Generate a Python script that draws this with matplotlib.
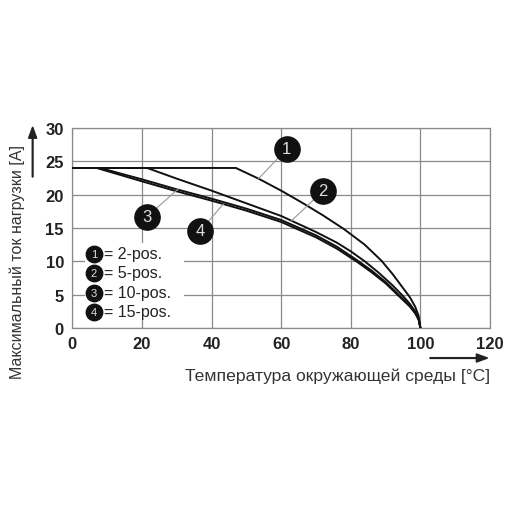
import matplotlib.pyplot as plt

plt.rcParams['font.family'] = ['Liberation Sans', 'DejaVu Sans']

# derating curves: ambient temperature [°C] -> max. load current [A]
x_2pos = [0, 47, 53.5, 60, 66, 72, 78, 84, 88.8, 92, 95, 97, 98.5, 99.5, 100]
y_2pos = [24, 24, 22.4, 20.6, 18.8, 16.9, 14.85, 12.5, 10.1, 8.1, 6.0, 4.6, 3.2, 1.8, 0]

x_5pos = [0, 21.5, 30, 40, 50, 60, 70, 76, 80, 84, 88, 92, 95, 97, 98.5, 99.5, 100]
y_5pos = [24, 24, 22.4, 20.6, 18.7, 16.8, 14.4, 12.8, 11.5, 10.0, 8.3, 6.4, 4.8, 3.6, 2.5, 1.4, 0]

x_10pos = [0, 8, 20, 30, 40, 50, 60, 70, 76, 82, 86, 90, 94.5, 97, 98.5, 99.5, 100]
y_10pos = [24, 24, 22.3, 20.8, 19.4, 17.9, 16.2, 13.9, 12.2, 10.1, 8.6, 6.9, 4.6, 3.3, 2.3, 1.3, 0]

x_15pos = [0, 7, 20, 30, 40, 50, 60, 70, 76, 82, 86, 90, 94.5, 97, 98.5, 99.5, 100]
y_15pos = [24, 24, 22.0, 20.5, 19.1, 17.6, 15.9, 13.6, 11.9, 9.85, 8.35, 6.7, 4.45, 3.2, 2.2, 1.25, 0]

legend_labels = ['2-pos.', '5-pos.', '10-pos.', '15-pos.']
callout_nums = ['1', '2', '3', '4']
callout_pos = [(61.6, 26.85), (72.0, 20.55), (21.4, 16.65), (36.7, 14.55)]
callout_tip = [(53.5, 22.4), (63, 16.1), (30.4, 20.85), (43.4, 18.6)]

fig = plt.figure(figsize=(5.1, 5.1), dpi=100)
ax = fig.add_axes([0.1418, 0.3549, 0.8190, 0.3922])

for xs, ys in [(x_2pos, y_2pos), (x_5pos, y_5pos), (x_10pos, y_10pos), (x_15pos, y_15pos)]:
    ax.plot(xs, ys, color='#111111', lw=1.4, zorder=3, solid_joinstyle='round')

ax.set_xlim(0, 120)
ax.set_ylim(0, 30)
ax.set_xticks(range(0, 121, 20))
ax.set_yticks(range(0, 31, 5))
ax.grid(True, color='#8a8a8a', lw=0.9)
ax.set_axisbelow(True)
for s in ax.spines.values():
    s.set_color('#8a8a8a')
    s.set_linewidth(0.9)
ax.tick_params(length=0, labelsize=12, pad=6)
for lab in ax.get_xticklabels() + ax.get_yticklabels():
    lab.set_fontweight('bold')
    lab.set_color('#222222')

# callouts
for num, (cx, cy), (tx, ty) in zip(callout_nums, callout_pos, callout_tip):
    ax.plot([cx, tx], [cy, ty], color='#999999', lw=0.8, zorder=4)
    ax.scatter([cx], [cy], s=330, color='#111111', zorder=5)
    ax.text(cx, cy, num, color='#e0e0e0', fontsize=12, ha='center', va='center', zorder=6)

# legend block
ax.add_patch(plt.Rectangle((3.7, 1.3), 28.3, 11.5, facecolor='white', edgecolor='none', zorder=2))
leg_y = [11.1, 8.3, 5.3, 2.4]
for num, lab, ly in zip(callout_nums, legend_labels, leg_y):
    ax.scatter([6.2], [ly], s=140, color='#111111', zorder=5)
    ax.text(6.2, ly, num, color='#e0e0e0', fontsize=8, ha='center', va='center', zorder=6)
    ax.text(9.2, ly, '= ' + lab, color='#222222', fontsize=11.5, ha='left', va='center', zorder=6)

# axis labels with arrows
fig.text(0.961, 0.262, 'Температура окружающей среды [°C]', fontsize=12.6,
         ha='right', va='center', color='#333333')
fig.patches.append(plt.matplotlib.patches.FancyArrow(
    0.843, 0.296, 0.113, 0, width=0.0015, head_width=0.016, head_length=0.022,
    length_includes_head=True, color='#222222', transform=fig.transFigure, figure=fig))

fig.text(0.034, 0.715, 'Максимальный ток нагрузки [A]', fontsize=11.5, rotation=90,
         ha='center', va='top', color='#333333')
fig.patches.append(plt.matplotlib.patches.FancyArrow(
    0.064, 0.651, 0, 0.098, width=0.0015, head_width=0.016, head_length=0.022,
    length_includes_head=True, color='#222222', transform=fig.transFigure, figure=fig))

fig.savefig('out.png', dpi=100)
